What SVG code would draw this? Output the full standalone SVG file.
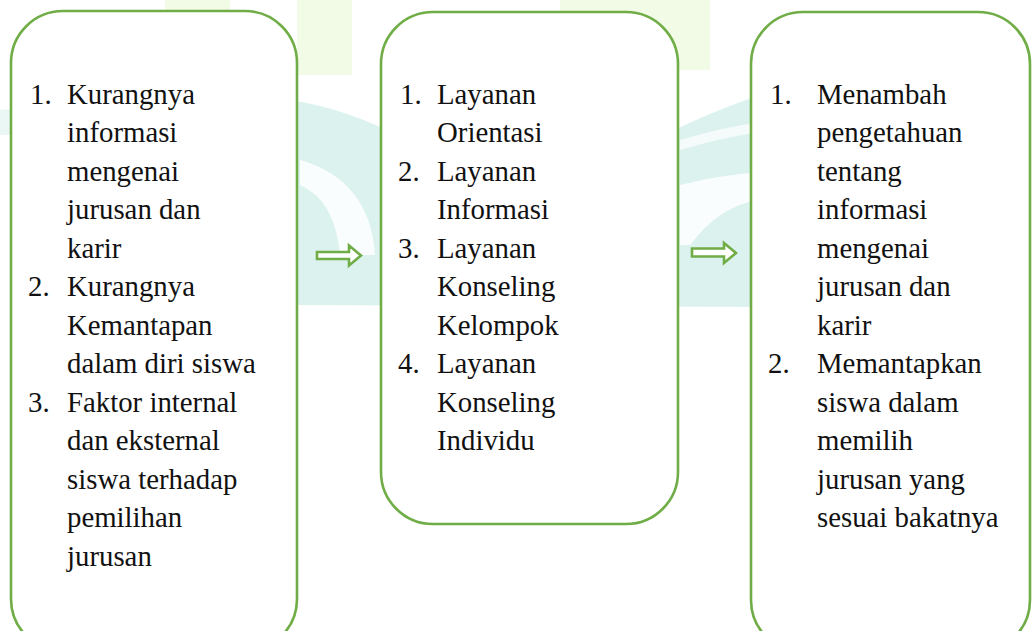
<svg xmlns="http://www.w3.org/2000/svg" width="1032" height="631" viewBox="0 0 1032 631">
<style>
.box{fill:#ffffff;stroke:#70ad47;stroke-width:2.6}
.arr{fill:#ffffff;stroke:#70ad47;stroke-width:2.6;stroke-linejoin:miter}
.t{font-family:"Liberation Serif","Times New Roman",serif;font-size:28.8px;fill:#111111}
.wg{fill:#f2fbe6}
.wt{fill:#dcf2ee}
</style>
<rect width="1032" height="631" fill="#ffffff"/>
<g id="watermark">
<rect class="wg" x="165" y="0" width="65" height="11"/>
<rect class="wg" x="297" y="0" width="55" height="75"/>
<rect class="wg" x="560" y="0" width="150" height="70"/>
<path class="wt" d="M0,110 L11,109 L11,135 L0,135 Z" opacity="0.6"/>
<path class="wt" d="M290,100 Q420,120 530,240 Q600,150 760,95 L760,307 L290,305 Z"/>
<path d="M300,160 Q370,180 375,255 L340,255 Q335,200 300,185 Z" fill="#ffffff" opacity="0.85"/>
<path d="M680,185 Q720,175 760,172 L760,200 Q720,205 690,245 L680,245 Z" fill="#ffffff" opacity="0.85"/>
<path d="M680,140 Q720,128 760,122 L760,132 Q720,138 680,150 Z" fill="#ffffff" opacity="0.7"/>
</g>
<g id="connectors">
<polygon class="arr" points="317,252 349,252 349,245.5 361,255.5 349,265.5 349,259 317,259"/>
<polygon class="arr" points="692,248.5 724,248.5 724,243 736,253 724,263 724,256.5 692,256.5"/>
</g>
<g id="node-masalah">
<rect class="box" x="11" y="11" width="286" height="640" rx="52" ry="52"/>
<text class="t">
<tspan x="30" y="103.5">1.</tspan><tspan x="67" y="103.5">Kurangnya</tspan>
<tspan x="67" y="142">informasi</tspan>
<tspan x="67" y="180.5">mengenai</tspan>
<tspan x="67" y="219">jurusan dan</tspan>
<tspan x="67" y="257.5">karir</tspan>
<tspan x="28" y="296">2.</tspan><tspan x="67" y="296">Kurangnya</tspan>
<tspan x="67" y="334.5">Kemantapan</tspan>
<tspan x="67" y="373">dalam diri siswa</tspan>
<tspan x="28" y="411.5">3.</tspan><tspan x="67" y="411.5">Faktor internal</tspan>
<tspan x="67" y="450">dan eksternal</tspan>
<tspan x="67" y="488.5">siswa terhadap</tspan>
<tspan x="67" y="527">pemilihan</tspan>
<tspan x="67" y="565.5">jurusan</tspan>
</text>
</g>
<g id="node-layanan">
<rect class="box" x="381" y="12" width="297" height="512" rx="52" ry="52"/>
<text class="t">
<tspan x="400" y="103.5">1.</tspan><tspan x="437" y="103.5">Layanan</tspan>
<tspan x="437" y="142">Orientasi</tspan>
<tspan x="398" y="180.5">2.</tspan><tspan x="437" y="180.5">Layanan</tspan>
<tspan x="437" y="219">Informasi</tspan>
<tspan x="398" y="257.5">3.</tspan><tspan x="437" y="257.5">Layanan</tspan>
<tspan x="437" y="296">Konseling</tspan>
<tspan x="437" y="334.5">Kelompok</tspan>
<tspan x="398" y="373">4.</tspan><tspan x="437" y="373">Layanan</tspan>
<tspan x="437" y="411.5">Konseling</tspan>
<tspan x="437" y="450">Individu</tspan>
</text>
</g>
<g id="node-hasil">
<rect class="box" x="751" y="12" width="279" height="640" rx="52" ry="52"/>
<text class="t">
<tspan x="770" y="103.5">1.</tspan><tspan x="817" y="103.5">Menambah</tspan>
<tspan x="817" y="142">pengetahuan</tspan>
<tspan x="817" y="180.5">tentang</tspan>
<tspan x="817" y="219">informasi</tspan>
<tspan x="817" y="257.5">mengenai</tspan>
<tspan x="817" y="296">jurusan dan</tspan>
<tspan x="817" y="334.5">karir</tspan>
<tspan x="768" y="373">2.</tspan><tspan x="817" y="373">Memantapkan</tspan>
<tspan x="817" y="411.5">siswa dalam</tspan>
<tspan x="817" y="450">memilih</tspan>
<tspan x="817" y="488.5">jurusan yang</tspan>
<tspan x="817" y="527">sesuai bakatnya</tspan>
</text>
</g>
</svg>
